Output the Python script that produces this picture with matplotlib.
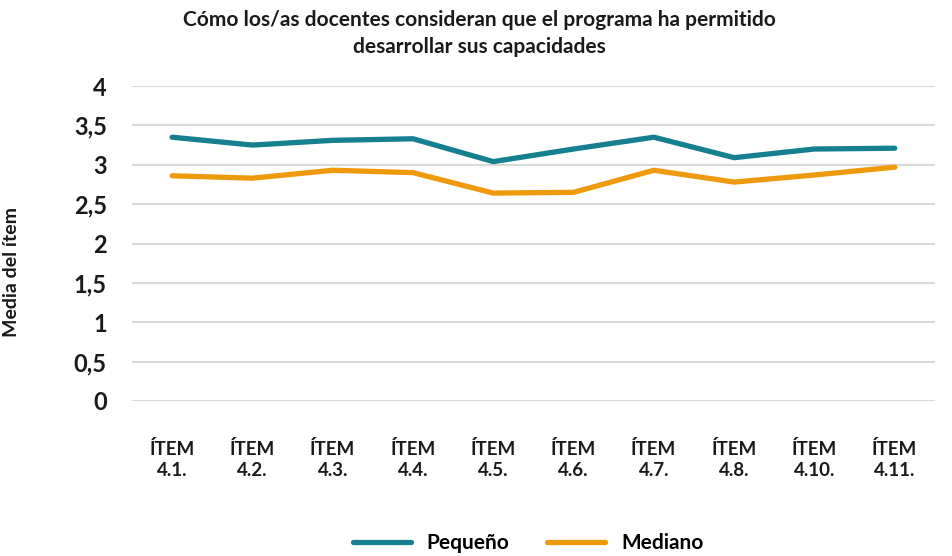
import numpy as np
import matplotlib.pyplot as plt

plt.rcParams['font.family'] = ['Lato', 'DejaVu Sans']

items = ['ÍTEM\n4.1.', 'ÍTEM\n4.2.', 'ÍTEM\n4.3.', 'ÍTEM\n4.4.', 'ÍTEM\n4.5.',
         'ÍTEM\n4.6.', 'ÍTEM\n4.7.', 'ÍTEM\n4.8.', 'ÍTEM\n4.10.', 'ÍTEM\n4.11.']
pequeno = [3.35, 3.25, 3.31, 3.33, 3.04, 3.20, 3.35, 3.09, 3.20, 3.21]
mediano = [2.86, 2.83, 2.93, 2.90, 2.64, 2.65, 2.93, 2.78, 2.87, 2.97]
yticks = [0, 0.5, 1, 1.5, 2, 2.5, 3, 3.5, 4]

TEAL = '#15808f'
ORANGE = '#ee9a0c'

fig = plt.figure(figsize=(9.53, 5.56), dpi=100)
ax = fig.add_axes([0.1385, 0.2788, 0.8425, 0.5665])

x = np.arange(len(items))
ax.plot(x, pequeno, color=TEAL, lw=3.8, solid_capstyle='round', solid_joinstyle='round', label='Pequeño')
ax.plot(x, mediano, color=ORANGE, lw=3.8, solid_capstyle='round', solid_joinstyle='round', label='Mediano')

ax.set_xlim(-0.5, len(items) - 0.5)
ax.set_ylim(0, 4)
ax.set_yticks(yticks)
ax.set_yticklabels([('%g' % v).replace('.', ',') for v in yticks],
                   fontsize=17, fontweight='bold', color='#1a1a1a')
ax.set_xticks(x)
ax.set_xticklabels(items, fontsize=13.5, fontweight='bold', color='#1a1a1a', linespacing=1.3)
ax.tick_params(axis='both', length=0)
ax.tick_params(axis='y', pad=18)
ax.tick_params(axis='x', pad=28)

ax.grid(axis='y', color='#d9d9d9', lw=1.5)
ax.set_axisbelow(True)
for s in ax.spines.values():
    s.set_visible(False)

ax.set_ylabel('Media del ítem', fontsize=14, fontweight='bold', color='#1a1a1a')
ax.yaxis.set_label_coords(-0.139, 0.41)

fig.text(0.503, 0.94, 'Cómo los/as docentes consideran que el programa ha permitido\ndesarrollar sus capacidades',
         ha='center', va='center', fontsize=15, fontweight='bold', color='#1a1a1a', linespacing=1.4)

fig.legend(loc='center', bbox_to_anchor=(0.554, 0.023), ncol=2, frameon=False,
           handlelength=2.8, columnspacing=1.8, handletextpad=0.75,
           prop={'weight': 'bold', 'size': 15})

fig.savefig('out.png', dpi=100)
